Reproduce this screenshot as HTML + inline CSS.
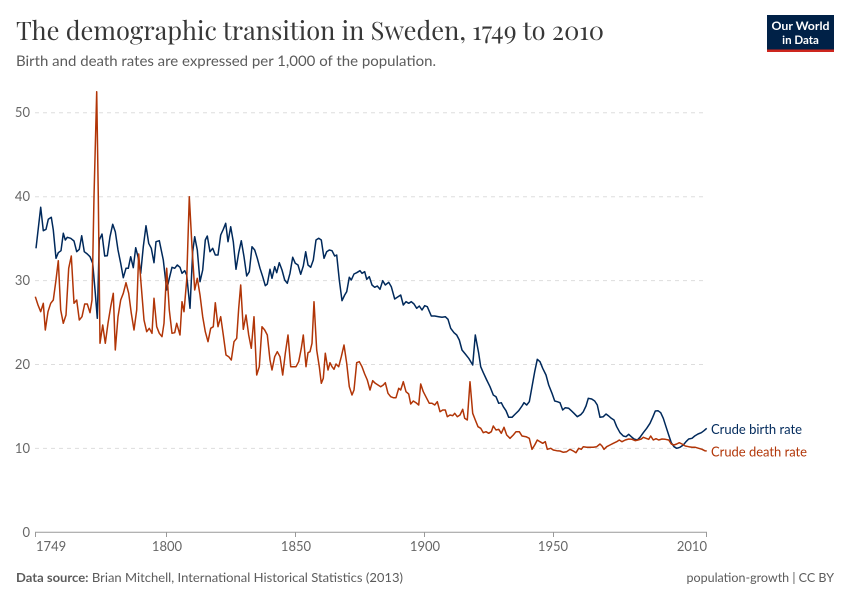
<!DOCTYPE html>
<html><head><meta charset="utf-8">
<style>
html,body{margin:0;padding:0;background:#fff;}
svg{display:block;}
</style></head>
<body>
<svg width="850" height="600" viewBox="0 0 850 600" xmlns="http://www.w3.org/2000/svg">
<rect width="850" height="600" fill="#fff"/>
<!-- Title -->
<text x="16" y="40" font-family="'Playfair Display','Liberation Serif',serif" font-size="25" fill="#373737" textLength="588" lengthAdjust="spacingAndGlyphs">The demographic transition in Sweden, 1749 to 2010</text>
<text x="16" y="66" font-family="'Lato','Liberation Sans',sans-serif" font-size="14" fill="#5b5b5b" textLength="420" lengthAdjust="spacingAndGlyphs">Birth and death rates are expressed per 1,000 of the population.</text>
<!-- Logo -->
<rect x="767" y="15" width="67" height="35" fill="#002147"/>
<rect x="767" y="49.5" width="67" height="2.5" fill="#ce261e"/>
<text x="800.5" y="30" text-anchor="middle" font-family="'Lato','Liberation Sans',sans-serif" font-size="11.5" fill="#fff" font-weight="bold" textLength="58" lengthAdjust="spacingAndGlyphs">Our World</text>
<text x="800.5" y="44" text-anchor="middle" font-family="'Lato','Liberation Sans',sans-serif" font-size="11.5" fill="#fff" font-weight="bold">in Data</text>
<!-- Grid -->
<g stroke="#dddddd" stroke-width="1" stroke-dasharray="4,4">
<line x1="35" y1="448.4" x2="707" y2="448.4"/>
<line x1="35" y1="364.5" x2="707" y2="364.5"/>
<line x1="35" y1="280.6" x2="707" y2="280.6"/>
<line x1="35" y1="196.7" x2="707" y2="196.7"/>
<line x1="35" y1="112.8" x2="707" y2="112.8"/>
</g>
<g font-family="'Lato','Liberation Sans',sans-serif" font-size="13" fill="#666" text-anchor="end">
<text x="30" y="537">0</text>
<text x="30" y="453">10</text>
<text x="30" y="369">20</text>
<text x="30" y="285">30</text>
<text x="30" y="201">40</text>
<text x="30" y="117">50</text>
</g>
<!-- x axis -->
<line x1="35" y1="532.3" x2="707" y2="532.3" stroke="#999" stroke-width="1"/>
<g stroke="#999" stroke-width="1">
<line x1="35.5" y1="532" x2="35.5" y2="537"/>
<line x1="166.5" y1="532" x2="166.5" y2="537"/>
<line x1="295.5" y1="532" x2="295.5" y2="537"/>
<line x1="424.5" y1="532" x2="424.5" y2="537"/>
<line x1="553.5" y1="532" x2="553.5" y2="537"/>
<line x1="706.5" y1="532" x2="706.5" y2="537"/>
</g>
<g font-family="'Lato','Liberation Sans',sans-serif" font-size="13" fill="#666">
<text x="36" y="551">1749</text>
<text x="167" y="551" text-anchor="middle">1800</text>
<text x="296" y="551" text-anchor="middle">1850</text>
<text x="425" y="551" text-anchor="middle">1900</text>
<text x="553" y="551" text-anchor="middle">1950</text>
<text x="707" y="551" text-anchor="end">2010</text>
</g>
<!-- Birth rate -->
<polyline fill="none" stroke="#00295b" stroke-width="1.5" stroke-linejoin="round" points="36,248.3 40.7,207.3 43.3,230.7 46,229.3 48.3,219.3 51.3,217.3 53.3,230 56,258.3 58.3,252.7 61,250.7 63.3,233.3 65.3,240 67.3,237.3 70.7,238.3 74,241 76.7,251.7 79.3,249.3 81.7,235.7 84.3,251.7 87.3,254 90,256.7 92.7,263.3 95.3,293.3 97.3,318.3 99.3,240 102,234 104.7,256 107.3,255.7 110,236.7 112.7,224.3 115.3,231.7 118,250 120.7,263.3 123.3,277.7 126,268.3 128.3,268.3 130.7,256.7 133.3,267.7 135.7,247.7 138,256.7 140.7,273.3 143.3,246.7 146,225.7 148.7,243.3 151.3,248.3 154,262.7 156,241.7 159.3,240.7 163.3,260 166.7,290 169.3,278.3 172,267.3 174.7,268.3 177.3,265 180,267.3 182,273.3 184.7,270.7 186.7,275 190,308.3 192.7,251.7 194.7,236.7 197.3,250 200,281.7 202.7,270 205.3,240 207.3,236 210,251.7 212.7,248.3 215.3,255 218,255 220.7,235 223.3,229.3 225.7,223.3 228,241.7 230.7,226.7 233.3,241.7 236,269.3 238.7,252.7 241.3,240.7 244,256.7 246.7,276 249.3,271.7 252,246.7 254.7,250 257.3,258.3 260,268.3 262.7,276.7 265.3,285.7 267.3,284 270,269.3 272,278.3 274.7,266.7 276.7,272.7 279.3,262.7 282,270 284.7,280 287.3,283.3 290,273.3 292.7,257.3 295.3,263.3 298,265 300.7,274.3 303.3,266 305.7,251.7 308,265 310.7,267.3 313.3,260 316,240 318.7,238.3 321.3,240 324,258.3 326.7,251.7 329.3,250 332,250.7 334.7,256 336.7,255 339.3,280 342,300.7 344.7,295 346.7,291.7 349.3,277.3 351.3,280 354,274 356.7,272.7 360,270.7 362,273.3 364.7,271.7 366.7,279.3 369.3,276.7 372,285 374.7,287.3 377.3,286 380,289.3 382.7,280.7 385.3,285 388.7,282.3 391.3,286.7 394.7,299 397.3,297.3 400.7,295 403.3,305 406,301.7 408.7,303.3 411.3,301.7 414,304 416.7,308.3 419.3,306 422,310 424.7,305.7 427.3,306.7 431.3,316 434.7,316 438.7,316.7 442,317.3 445.3,316.7 448,319.3 450.7,328.3 454,332.7 456.7,335 459.3,340 462,350 465.3,354 468.7,358.3 472.7,365 475.3,335 478.7,353.3 480.7,366.7 483.3,372.7 486.7,380 490,386.7 493.3,395 496,396.7 498.7,403.3 501.3,402.7 503.3,406.7 506,410.7 508.7,417.3 512,417.3 515.3,414 518.7,410.7 522,406 524,402.7 526.7,405 529.3,401.7 532,386.7 534.7,371.7 537.3,359.3 540,361.7 542.7,368.3 546,375 548.7,385 552,393.3 554.7,401 557.3,401.7 560,402.7 562.7,410 565.3,407.7 568.7,408.3 571.3,410.7 574,413.3 577.3,416.7 580.7,414.7 583.3,411.7 586,406 588.3,398.3 591.7,399 594.7,401 597.3,405 600,417.3 603.3,416.7 606,414 608.7,416 611.3,418.3 614,420 616.7,426.7 620,432.7 623.3,436 626,436.7 628.7,434.3 631.3,436.7 634,439 637.3,440 640,437.3 643.3,432.7 646.7,428.3 650,423.3 652.7,417.3 655.3,411 658,410.7 660.7,412.7 663.3,418.3 666,426.7 668.7,435 671.3,442.7 674,446.7 676.7,448.3 680,447.3 683.3,445 686,441.7 688.7,439 692,438.3 694.7,436 698,434 701.3,432.7 704,430.7 706.7,428.3"/>
<!-- Death rate -->
<polyline fill="none" stroke="#b13507" stroke-width="1.5" stroke-linejoin="round" points="35.3,296.7 38,305 40.7,311.7 43.3,303.3 45.3,330 48,311.7 50.7,303.3 53.3,300 56,280 58.3,260.7 60.7,310 63.3,323.3 66,315 68.7,268.3 71.3,256 74,303.3 76.7,300 79.3,320 82,316.7 84.7,304 87.3,304 90,312.7 92,300 94,196.7 96.7,91.7 98.3,196.7 100,343.3 102.7,325 105.3,343.3 108,323.3 110.7,306.7 113.3,293.3 115.3,350 118,316.7 120.7,300 123.3,293.3 126,282.7 128.7,293.3 131.3,313.3 134,330 136.7,310 138.7,254 141.3,286.7 144,320 146.7,331.7 149.3,328.3 152,333.3 154,298.3 156.7,326.7 159.3,333.3 162,336.7 164,323.3 166.7,268.3 169.3,310 172,333.3 174.7,332.7 176.7,323.3 180,335 182,301.7 184,311.7 186.7,280 189.3,196.7 192,246.7 194.7,290 197.3,278.3 200,295 202.7,316.7 205.3,331.7 208,341.7 210.7,328.3 213.3,326.7 215.3,302.7 218,326.7 220.7,316.7 223.3,335 226,355 228.7,356.7 231.3,360 234,341.7 236.7,338.3 238.7,308.3 240.7,285 243.3,329.3 246,315 248.7,335 251.3,348.3 254,316.7 256.7,375 259.3,366.7 262,326.7 264.7,330 267.3,335 270,360 272,370 274.7,356.7 277.3,351.7 280,356.7 282.7,375 285.3,353.3 288,335 290.7,366.7 293.3,366.7 296,366.7 298.7,361.7 301.3,348.3 303.3,335 306,366.7 308,352.7 310,351.7 312,343.3 314,301.7 316.7,350 319.3,366.7 321.3,383.3 323.3,378.3 325.3,353.3 328,370 330,362.7 332,366.7 334,369.3 336,364 338.7,366.7 341.3,356.7 344,345 346.7,363.3 349.3,386.7 352,395 354,390 356.7,362.7 359.3,361.7 362,366.7 364.7,374 367.3,380 370,390 372.7,380.7 375.3,383.3 378,385 380.7,386.7 383.3,385 385.3,382.7 388,393.3 390.7,396.7 393.3,397.7 396,397.7 398.7,388.3 400.7,390 403.3,381.7 406,391.7 408.7,394 410.7,404 413.3,401 416,402.7 418.7,405 420.7,384 423.3,391.7 426.7,398.3 429.3,403.3 432,403.3 434.7,405 437.3,401.7 440,411.7 442.7,410 445.3,410 447.3,416.7 450,415 452.7,415.7 454.7,413.3 457.3,416.7 460,415 462.7,409.3 464.7,418.3 467.3,420 470,381.7 472.7,413.3 475.3,420 478,426.7 480.7,428.3 483.3,432.7 486,431.7 488.7,433.3 491.3,431.7 493.3,426 496,430 498.7,429.3 501.3,433.3 504,427.3 506.7,435 510,438.3 513.3,435 516,431.7 519.3,431.7 522,436 526,436.7 529.3,438.3 532,449.3 534.7,445 537.3,440 540,441.7 542.7,443.3 545.3,441.7 547.3,449.3 550.7,448.3 553.3,450 556.7,450.7 560,451 563.3,452.3 566.7,451.7 570,449.3 573.3,451 576,452.7 578.7,448.3 581.3,449.3 583.3,446.7 586.7,447.3 590,447.3 593.3,447.3 596.7,446.7 600,444 602,446 604,449.3 606.7,446.7 610,445 613.3,443.3 616.7,441.7 619.3,440 622,441.7 625.3,440 628.7,439 632,439.3 635.3,440.7 638,440 641.3,439 643.3,437.3 646,438.3 648.7,439.3 650.7,436 653.3,440 656,438.7 658.7,440 662,439 665.3,439.3 668.7,440 671.3,444 674,445 676.7,444 679.3,442.7 682,444 685.3,446 688.7,446.7 692,447.3 695.3,447.3 698.7,448.3 702,449.3 704.7,450.7 706.7,451"/>
<!-- Labels -->
<text x="711" y="434" font-family="'Lato','Liberation Sans',sans-serif" font-size="13" fill="#00295b" textLength="91" lengthAdjust="spacingAndGlyphs">Crude birth rate</text>
<text x="711" y="456.5" font-family="'Lato','Liberation Sans',sans-serif" font-size="13" fill="#b13507" textLength="96" lengthAdjust="spacingAndGlyphs">Crude death rate</text>
<!-- Footer -->
<text x="16" y="582" font-family="'Lato','Liberation Sans',sans-serif" font-size="12.5" fill="#5b5b5b" textLength="387" lengthAdjust="spacingAndGlyphs"><tspan font-weight="bold">Data source:</tspan> Brian Mitchell, International Historical Statistics (2013)</text>
<text x="834" y="582" text-anchor="end" font-family="'Lato','Liberation Sans',sans-serif" font-size="12.5" fill="#5b5b5b">population-growth | CC BY</text>
</svg>
</body></html>
